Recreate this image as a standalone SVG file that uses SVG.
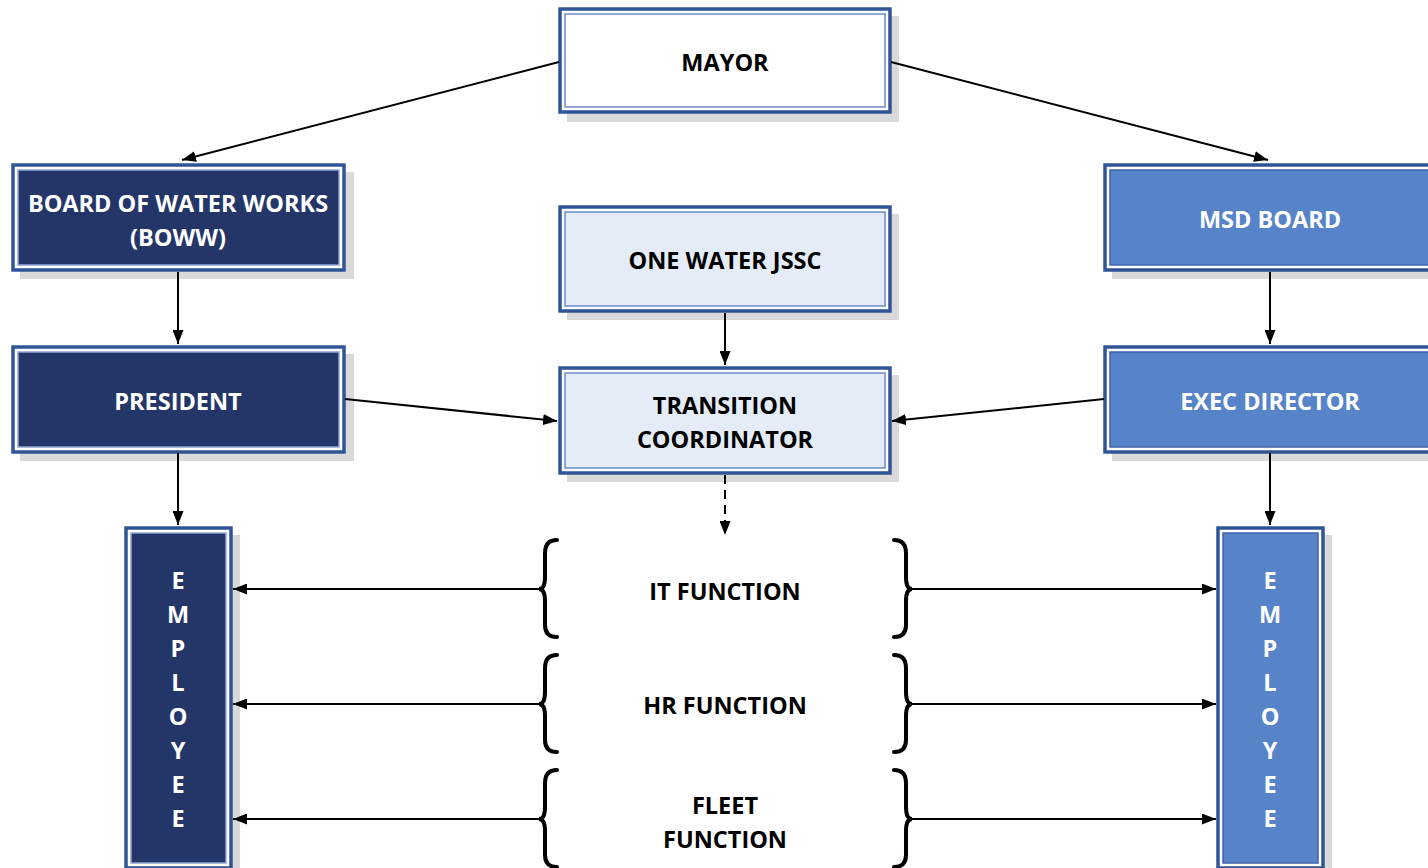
<svg xmlns="http://www.w3.org/2000/svg" width="1428" height="868" viewBox="0 0 1428 868">
  <defs>
    <marker id="arrow" viewBox="0 0 14 11" refX="14" refY="5.5" markerWidth="14" markerHeight="11" markerUnits="userSpaceOnUse" orient="auto">
      <path d="M0,0 L14,5.5 L0,11 Z" fill="#000"/>
    </marker>
  </defs>
  <style>
    .shadow { fill: #d9d9d9; }
    .outer { fill: #ffffff; stroke: #2f5597; stroke-width: 3.5; }
    .inner-white { fill: #ffffff; stroke: #6d8bc7; stroke-width: 1.5; }
    .inner-light { fill: #e3ecf7; stroke: #6d8bc7; stroke-width: 1.5; }
    .inner-dark { fill: #243668; stroke: #8ea6d6; stroke-width: 1.5; }
    .inner-mid { fill: #5783c9; stroke: #3d64ad; stroke-width: 1.5; }
    .label { font-family: "Open Sans", "Liberation Sans", sans-serif; font-weight: 700; font-size: 23.5px; text-anchor: middle; }
    .dark-text { fill: #000000; }
    .light-text { fill: #ffffff; }
    .conn { stroke: #000; stroke-width: 2; fill: none; }
    .dashed { stroke-dasharray: 9 6; }
    .brace { stroke: #000; stroke-width: 4; fill: none; stroke-linecap: round; }
  </style>

  <g id="mayor">
    <rect class="shadow" x="567" y="16" width="332" height="106"/>
    <rect class="outer" x="560" y="9" width="330" height="103"/>
    <rect class="inner-white" x="565" y="14" width="320" height="93"/>
    <text class="label dark-text" x="725" y="71">MAYOR</text>
  </g>

  <g id="boww">
    <rect class="shadow" x="20" y="172" width="334" height="107"/>
    <rect class="outer" x="13" y="165" width="331" height="105"/>
    <rect class="inner-dark" x="18" y="170" width="321" height="95"/>
    <text class="label light-text" x="178" y="212">BOARD OF WATER WORKS</text>
    <text class="label light-text" x="178" y="246">(BOWW)</text>
  </g>

  <g id="msd-board">
    <rect class="shadow" x="1112" y="172" width="330" height="107"/>
    <rect class="outer" x="1105" y="165" width="330" height="105"/>
    <rect class="inner-mid" x="1110" y="170" width="330" height="95"/>
    <text class="label light-text" x="1270" y="228">MSD BOARD</text>
  </g>

  <g id="one-water-jssc">
    <rect class="shadow" x="567" y="214" width="332" height="106"/>
    <rect class="outer" x="560" y="207" width="330" height="104"/>
    <rect class="inner-light" x="565" y="212" width="320" height="94"/>
    <text class="label dark-text" x="725" y="269">ONE WATER JSSC</text>
  </g>

  <g id="president">
    <rect class="shadow" x="20" y="354" width="334" height="107"/>
    <rect class="outer" x="13" y="347" width="331" height="105"/>
    <rect class="inner-dark" x="18" y="352" width="321" height="95"/>
    <text class="label light-text" x="178" y="410">PRESIDENT</text>
  </g>

  <g id="transition-coordinator">
    <rect class="shadow" x="567" y="375" width="332" height="107"/>
    <rect class="outer" x="560" y="368" width="330" height="105"/>
    <rect class="inner-light" x="565" y="373" width="320" height="95"/>
    <text class="label dark-text" x="725" y="414">TRANSITION</text>
    <text class="label dark-text" x="725" y="448">COORDINATOR</text>
  </g>

  <g id="exec-director">
    <rect class="shadow" x="1112" y="354" width="330" height="107"/>
    <rect class="outer" x="1105" y="347" width="330" height="105"/>
    <rect class="inner-mid" x="1110" y="352" width="330" height="95"/>
    <text class="label light-text" x="1270" y="410">EXEC DIRECTOR</text>
  </g>

  <g id="employee-boww">
    <rect class="shadow" x="133" y="535" width="107" height="340"/>
    <rect class="outer" x="126" y="528" width="105" height="340"/>
    <rect class="inner-dark" x="131" y="533" width="95" height="330"/>
    <text class="label light-text" x="178" y="589">E</text>
    <text class="label light-text" x="178" y="623">M</text>
    <text class="label light-text" x="178" y="657">P</text>
    <text class="label light-text" x="178" y="691">L</text>
    <text class="label light-text" x="178" y="725">O</text>
    <text class="label light-text" x="178" y="759">Y</text>
    <text class="label light-text" x="178" y="793">E</text>
    <text class="label light-text" x="178" y="827">E</text>
  </g>

  <g id="employee-msd">
    <rect class="shadow" x="1225" y="535" width="107" height="340"/>
    <rect class="outer" x="1218" y="528" width="105" height="340"/>
    <rect class="inner-mid" x="1223" y="533" width="95" height="330"/>
    <text class="label light-text" x="1270" y="589">E</text>
    <text class="label light-text" x="1270" y="623">M</text>
    <text class="label light-text" x="1270" y="657">P</text>
    <text class="label light-text" x="1270" y="691">L</text>
    <text class="label light-text" x="1270" y="725">O</text>
    <text class="label light-text" x="1270" y="759">Y</text>
    <text class="label light-text" x="1270" y="793">E</text>
    <text class="label light-text" x="1270" y="827">E</text>
  </g>

  <g id="it-function">
    <text class="label dark-text" x="725" y="600">IT FUNCTION</text>
  </g>
  <g id="hr-function">
    <text class="label dark-text" x="725" y="714">HR FUNCTION</text>
  </g>
  <g id="fleet-function">
    <text class="label dark-text" x="725" y="814">FLEET</text>
    <text class="label dark-text" x="725" y="848">FUNCTION</text>
  </g>

  <!-- Braces around the shared functions -->
  <g id="braces">
    <path class="brace" d="M557,540 Q545,540 545,553 L545,577 Q545,589 539,589 Q545,589 545,601 L545,625 Q545,637 557,637"/>
    <path class="brace" d="M894,540 Q906,540 906,553 L906,577 Q906,589 912,589 Q906,589 906,601 L906,625 Q906,637 894,637"/>
    <path class="brace" d="M557,655 Q545,655 545,668 L545,692 Q545,704 539,704 Q545,704 545,716 L545,740 Q545,752 557,752"/>
    <path class="brace" d="M894,655 Q906,655 906,668 L906,692 Q906,704 912,704 Q906,704 906,716 L906,740 Q906,752 894,752"/>
    <path class="brace" d="M557,770 Q545,770 545,783 L545,807 Q545,819 539,819 Q545,819 545,831 L545,855 Q545,867 557,867"/>
    <path class="brace" d="M894,770 Q906,770 906,783 L906,807 Q906,819 912,819 Q906,819 906,831 L906,855 Q906,867 894,867"/>
  </g>

  <!-- Connectors, drawn over the box shadows -->
  <g id="connectors">
    <line class="conn" x1="559" y1="62" x2="182" y2="160" marker-end="url(#arrow)"/>
    <line class="conn" x1="891" y1="62" x2="1268" y2="160" marker-end="url(#arrow)"/>
    <line class="conn" x1="178" y1="272" x2="178" y2="344" marker-end="url(#arrow)"/>
    <line class="conn" x1="1270" y1="272" x2="1270" y2="344" marker-end="url(#arrow)"/>
    <line class="conn" x1="725" y1="313" x2="725" y2="365" marker-end="url(#arrow)"/>
    <line class="conn" x1="345" y1="399" x2="557" y2="421" marker-end="url(#arrow)"/>
    <line class="conn" x1="1104" y1="399" x2="892" y2="421" marker-end="url(#arrow)"/>
    <line class="conn" x1="178" y1="453" x2="178" y2="525" marker-end="url(#arrow)"/>
    <line class="conn" x1="1270" y1="453" x2="1270" y2="525" marker-end="url(#arrow)"/>
    <line class="conn dashed" x1="725" y1="475" x2="725" y2="535" marker-end="url(#arrow)"/>
    <line class="conn" x1="540" y1="589" x2="233" y2="589" marker-end="url(#arrow)"/>
    <line class="conn" x1="540" y1="704" x2="233" y2="704" marker-end="url(#arrow)"/>
    <line class="conn" x1="540" y1="819" x2="233" y2="819" marker-end="url(#arrow)"/>
    <line class="conn" x1="912" y1="589" x2="1216" y2="589" marker-end="url(#arrow)"/>
    <line class="conn" x1="912" y1="704" x2="1216" y2="704" marker-end="url(#arrow)"/>
    <line class="conn" x1="912" y1="819" x2="1216" y2="819" marker-end="url(#arrow)"/>
  </g>
</svg>
